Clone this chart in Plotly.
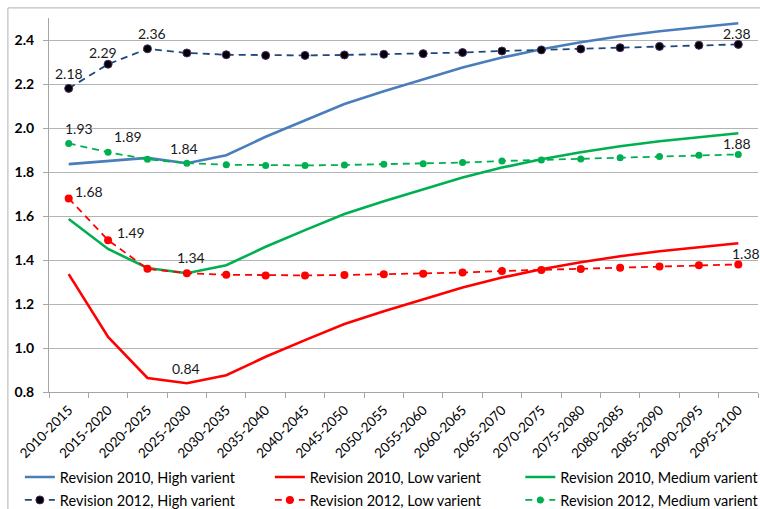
import plotly.graph_objects as go

periods = ["2010-2015", "2015-2020", "2020-2025", "2025-2030", "2030-2035", "2035-2040",
           "2040-2045", "2045-2050", "2050-2055", "2055-2060", "2060-2065", "2065-2070",
           "2070-2075", "2075-2080", "2080-2085", "2085-2090", "2090-2095", "2095-2100"]

rev2010_high = [1.836, 1.85, 1.864, 1.84, 1.876, 1.96, 2.036, 2.109, 2.167, 2.222,
                2.275, 2.32, 2.358, 2.39, 2.417, 2.44, 2.458, 2.476]
rev2010_low = [1.336, 1.05, 0.864, 0.84, 0.876, 0.96, 1.036, 1.109, 1.167, 1.222,
               1.275, 1.32, 1.358, 1.39, 1.417, 1.44, 1.458, 1.476]
rev2010_medium = [1.586, 1.45, 1.364, 1.34, 1.376, 1.46, 1.536, 1.609, 1.667, 1.722,
                  1.775, 1.82, 1.858, 1.89, 1.917, 1.94, 1.958, 1.976]
rev2012_high = [2.18, 2.29, 2.36, 2.341, 2.333, 2.33, 2.33, 2.332, 2.335, 2.338,
                2.343, 2.35, 2.355, 2.359, 2.365, 2.371, 2.376, 2.38]
rev2012_low = [1.68, 1.49, 1.36, 1.34, 1.333, 1.33, 1.33, 1.332, 1.335, 1.338,
               1.343, 1.35, 1.355, 1.359, 1.365, 1.371, 1.376, 1.38]
rev2012_medium = [1.93, 1.89, 1.858, 1.84, 1.833, 1.83, 1.83, 1.832, 1.835, 1.838,
                  1.843, 1.85, 1.855, 1.859, 1.865, 1.871, 1.876, 1.88]

BLUE = "#4a7ebb"
NAVY = "#1f497d"
RED = "#ff0000"
GREEN = "#00b050"
FONT = "Lato"
DASH = "7px,5px"

fig = go.Figure()

# Revision 2010: solid lines (top legend row)
fig.add_trace(go.Scatter(x=periods, y=rev2010_high, name="Revision 2010, High varient",
                         mode="lines", line=dict(color=BLUE, width=2.6), legend="legend"))
fig.add_trace(go.Scatter(x=periods, y=rev2010_low, name="Revision 2010, Low varient",
                         mode="lines", line=dict(color=RED, width=2.6), legend="legend2"))
fig.add_trace(go.Scatter(x=periods, y=rev2010_medium, name="Revision 2010, Medium varient",
                         mode="lines", line=dict(color=GREEN, width=2.6), legend="legend3"))

# Revision 2012: dashed lines with markers (bottom legend row)
fig.add_trace(go.Scatter(x=periods, y=rev2012_high, name="Revision 2012, High varient",
                         mode="lines+markers", legend="legend4",
                         line=dict(color=NAVY, width=1.8, dash=DASH),
                         marker=dict(color="#000000", size=8,
                                     line=dict(color="#4b2a6b", width=1))))
fig.add_trace(go.Scatter(x=periods, y=rev2012_low, name="Revision 2012, Low varient",
                         mode="lines+markers", legend="legend5",
                         line=dict(color=RED, width=1.8, dash=DASH),
                         marker=dict(color=RED, size=8)))
fig.add_trace(go.Scatter(x=periods, y=rev2012_medium, name="Revision 2012, Medium varient",
                         mode="lines+markers", legend="legend6",
                         line=dict(color=GREEN, width=1.8, dash=DASH),
                         marker=dict(color=GREEN, size=7)))

# value labels: (series, index, xshift, yshift)
labels = [
    (rev2012_high, 0, 0, 15), (rev2012_high, 1, -5, 12), (rev2012_high, 2, 5, 15),
    (rev2012_high, 17, -1, 11),
    (rev2012_medium, 0, 10, 15), (rev2012_medium, 1, 20, 16), (rev2012_medium, 3, -3, 15),
    (rev2012_medium, 17, -1, 11),
    (rev2012_low, 0, 20, 7), (rev2012_low, 1, 23, 8), (rev2012_low, 3, 4, 16),
    (rev2012_low, 17, 8, 11),
    (rev2010_low, 3, -1, 15),
]
for ys, i, dx, dy in labels:
    fig.add_annotation(x=periods[i], y=ys[i], text=f"{ys[i]:.2f}", showarrow=False,
                       xshift=dx, yshift=dy, font=dict(family=FONT, size=14, color="#1a1a1a"))

# outer chart frame (top and left edges)
fig.add_shape(type="line", xref="paper", yref="paper", x0=-0.058, x1=1.01, y0=1.027, y1=1.027,
              line=dict(color="#bfbfbf", width=1.2))
fig.add_shape(type="line", xref="paper", yref="paper", x0=-0.058, x1=-0.058, y0=-0.4, y1=1.027,
              line=dict(color="#bfbfbf", width=1.2))


def legend_box(x, y):
    return dict(orientation="v", x=x, y=y, xanchor="left", yanchor="middle",
                font=dict(family=FONT, size=14.5, color="#000000"),
                bgcolor="rgba(0,0,0,0)", itemwidth=30)


col_x = [-0.0411, 0.3115, 0.6647]
row_y = [-0.2273, -0.2888]

fig.update_layout(
    width=760, height=509,
    margin=dict(l=49, r=2, t=18, b=117, autoexpand=False),
    paper_bgcolor="white", plot_bgcolor="white",
    font=dict(family=FONT, color="#000000"),
    showlegend=True,
    legend=legend_box(col_x[0], row_y[0]),
    legend2=legend_box(col_x[1], row_y[0]),
    legend3=legend_box(col_x[2], row_y[0]),
    legend4=legend_box(col_x[0], row_y[1]),
    legend5=legend_box(col_x[1], row_y[1]),
    legend6=legend_box(col_x[2], row_y[1]),
    xaxis=dict(type="category", range=[-0.5, len(periods) - 0.5], tickangle=-45,
               tickson="boundaries", ticks="outside",
               ticklen=5, tickcolor="#a6a6a6", showline=True, linecolor="#a6a6a6",
               linewidth=1, showgrid=False, automargin=False, ticklabelstandoff=4,
               tickfont=dict(family=FONT, size=13.5, color="#000000")),
    yaxis=dict(range=[0.8, 2.5], tick0=0.8, dtick=0.2, tickformat=".1f", automargin=False,
               showgrid=True, gridcolor="#b3b3b3", gridwidth=1, zeroline=False,
               showline=True, linecolor="#a6a6a6", linewidth=1, ticks="outside",
               ticklen=5, tickcolor="#a6a6a6", ticklabelstandoff=6,
               tickfont=dict(family=FONT, size=14, color="#000000", weight="bold")),
)

fig.write_html("out.html")
